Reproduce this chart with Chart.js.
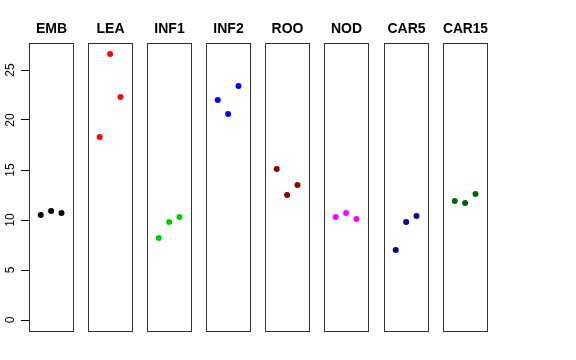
<!DOCTYPE html>
<html>
<head>
<meta charset="utf-8">
<script src="https://cdn.jsdelivr.net/npm/chart.js@4.4.1/dist/chart.umd.min.js"></script>
<style>
  body { margin: 0; background: #fff; }
  #wrap { position: relative; width: 576px; height: 360px; background: #fff; }
  #wrap canvas { position: absolute; top: 0; }
</style>
</head>
<body>
<div id="wrap"></div>
<script>
// tissues, one panel each
const tissues = ['EMB', 'LEA', 'INF1', 'INF2', 'ROO', 'NOD', 'CAR5', 'CAR15'];
const colors = ['#000000', '#FF0000', '#00CD00', '#0000FF', '#8B0000', '#FF00FF', '#00008B', '#006400'];
const replicates = [1, 2, 3];

// values per replicate
const EMB = [10.5, 10.9, 10.7];
const LEA = [18.3, 26.6, 22.3];
const INF1 = [8.2, 9.8, 10.3];
const INF2 = [22.0, 20.6, 23.4];
const ROO = [15.1, 12.5, 13.5];
const NOD = [10.3, 10.7, 10.1];
const CAR5 = [7.0, 9.8, 10.4];
const CAR15 = [11.9, 11.7, 12.6];
const values = [EMB, LEA, INF1, INF2, ROO, NOD, CAR5, CAR15];

const yTicks = [0, 5, 10, 15, 20, 25];

// layout
const panelLeft = [29, 88, 147, 206, 265, 324, 384, 443];
const panelWidth = 45;
const axisWidth = 29;
const canvasHeight = 332;
const fontFamily = "'Liberation Sans', Arial, Helvetica, sans-serif";

// box round each panel
const boxPlugin = {
  id: 'box',
  afterDraw(chart) {
    const a = chart.chartArea;
    const ctx = chart.ctx;
    ctx.save();
    ctx.strokeStyle = '#333';
    ctx.lineWidth = 1;
    ctx.strokeRect(a.left + 0.5, a.top + 0.5, a.right - a.left - 1, a.bottom - a.top - 1);
    ctx.restore();
  }
};

// R-style vertical tick labels
const rotatedTicks = {
  id: 'rotatedTicks',
  afterDraw(chart) {
    const s = chart.scales.y;
    if (!s.options.display) return;
    const ctx = chart.ctx;
    ctx.save();
    ctx.fillStyle = '#000';
    ctx.font = '12px ' + fontFamily;
    ctx.textAlign = 'center';
    ctx.textBaseline = 'alphabetic';
    s.ticks.forEach((t, i) => {
      const y = s.getPixelForTick(i);
      ctx.save();
      ctx.translate(13.5, y);
      ctx.rotate(-Math.PI / 2);
      ctx.fillText(String(t.value), 0, 0);
      ctx.restore();
    });
    ctx.restore();
  }
};

const wrap = document.getElementById('wrap');

tissues.forEach((name, i) => {
  const first = i === 0;
  const canvas = document.createElement('canvas');
  const w = first ? panelWidth + axisWidth : panelWidth;
  canvas.width = w;
  canvas.height = canvasHeight;
  canvas.style.left = (first ? panelLeft[i] - axisWidth : panelLeft[i]) + 'px';
  canvas.style.width = w + 'px';
  canvas.style.height = canvasHeight + 'px';
  wrap.appendChild(canvas);

  const yAxis = {
    type: 'linear',
    display: first,
    min: -1.2,
    max: 27.7,
    afterBuildTicks: s => { s.ticks = yTicks.map(v => ({ value: v })); },
    ticks: { display: false },
    border: { display: false },
    grid: {
      drawOnChartArea: false,
      drawTicks: true,
      tickLength: 8,
      tickColor: '#000',
      color: '#000'
    }
  };
  if (first) yAxis.afterFit = s => { s.width = axisWidth; };

  new Chart(canvas.getContext('2d'), {
    type: 'scatter',
    data: {
      datasets: [{
        data: replicates.map((r, j) => ({ x: r, y: values[i][j] })),
        backgroundColor: colors[i],
        borderWidth: 0,
        pointRadius: 3,
        pointHoverRadius: 3
      }]
    },
    options: {
      responsive: false,
      animation: false,
      events: [],
      layout: { padding: 0, autoPadding: false },
      plugins: {
        legend: { display: false },
        tooltip: { enabled: false },
        title: {
          display: true,
          text: name,
          fullSize: false,
          color: '#000',
          font: { family: fontFamily, size: 14, weight: 'bold' },
          padding: { top: 20.6, bottom: 5.6 }
        }
      },
      scales: {
        x: {
          type: 'linear',
          display: false,
          min: -0.13,
          max: 4.2
        },
        y: yAxis
      }
    },
    plugins: [boxPlugin, rotatedTicks]
  });
});
</script>
</body>
</html>
